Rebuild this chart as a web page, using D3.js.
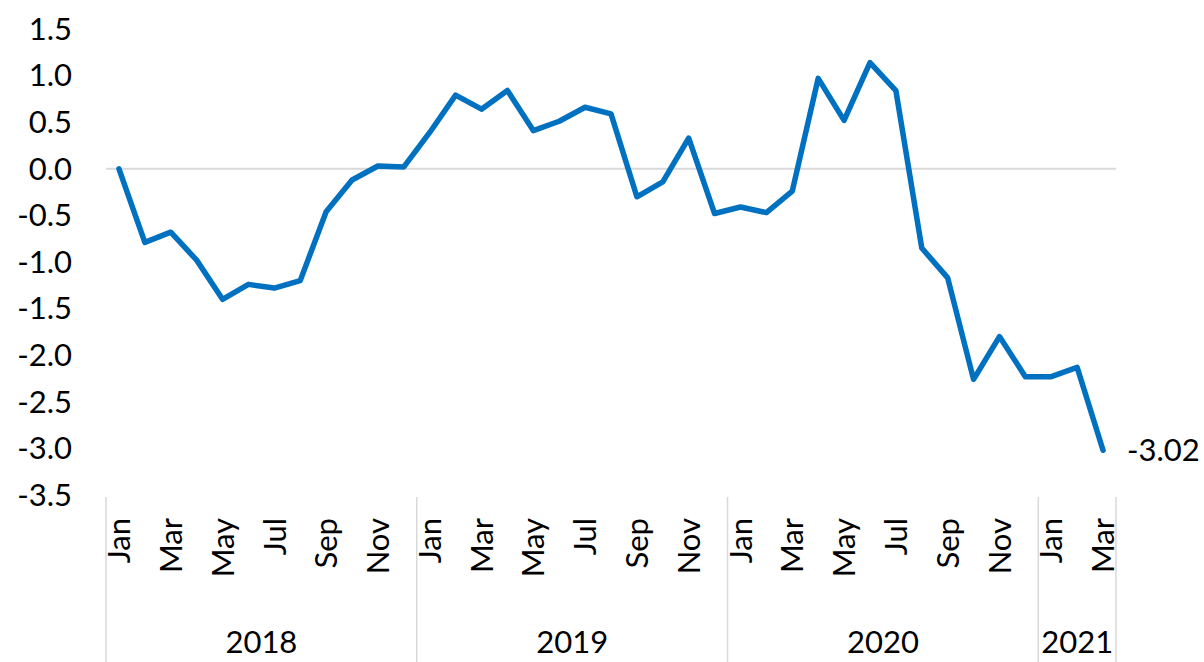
<!DOCTYPE html>
<html>
<head>
<meta charset="utf-8">
<script src="https://cdn.jsdelivr.net/npm/d3@7"></script>
<style>
  body { margin: 0; background: #fff; }
  svg { display: block; font-family: Lato, "Open Sans", sans-serif; }
</style>
</head>
<body>
<div class="chart"></div>
<script>
const years = ["2018", "2019", "2020", "2021"];
const monthsPerYear = [12, 12, 12, 3];
const monthNames = ["Jan", "Feb", "Mar", "Apr", "May", "Jun", "Jul", "Aug", "Sep", "Oct", "Nov", "Dec"];
const values = [
  0.0, -0.79, -0.68, -0.98, -1.40, -1.24, -1.28, -1.20, -0.46, -0.12, 0.03, 0.02,
  0.39, 0.79, 0.64, 0.84, 0.41, 0.51, 0.66, 0.59, -0.30, -0.14, 0.33, -0.48,
  -0.41, -0.47, -0.24, 0.97, 0.52, 1.14, 0.84, -0.85, -1.17, -2.26, -1.80, -2.23,
  -2.23, -2.13, -3.02,
];
const yTicks = [1.5, 1.0, 0.5, 0.0, -0.5, -1.0, -1.5, -2.0, -2.5, -3.0, -3.5];
const endLabel = "-3.02";

const width = 1204;
const height = 662;
const fontSize = 31;

function main() {
  // build month list from the year counts
  const points = [];
  years.forEach((yr, i) => {
    for (let m = 0; m < monthsPerYear[i]; m++) {
      points.push({ year: yr, month: monthNames[m], idx: m, value: values[points.length] });
    }
  });

  const x = d3.scaleBand()
    .domain(points.map((d, i) => i))
    .range([106, 1116]);
  const y = d3.scaleLinear().domain([-3.5, 1.5]).range([495, 29]);

  const svg = d3.select(".chart")
    .append("svg")
    .attr("width", width)
    .attr("height", height);

  // zero line
  svg.append("line")
    .attr("x1", x.range()[0])
    .attr("x2", x.range()[1])
    .attr("y1", y(0))
    .attr("y2", y(0))
    .attr("stroke", "#d9d9d9")
    .attr("stroke-width", 2);

  // y axis labels
  svg.append("g")
    .selectAll("text")
    .data(yTicks)
    .join("text")
    .attr("x", 72)
    .attr("y", (d) => y(d))
    .attr("dy", "0.35em")
    .attr("text-anchor", "end")
    .attr("font-size", fontSize)
    .attr("fill", "#000")
    .text((d) => d3.format(".1f")(d).replace("−", "-"));

  // month labels, every other month
  svg.append("g")
    .selectAll("text")
    .data(points.map((d, i) => ({ ...d, i })).filter((d) => d.idx % 2 === 0))
    .join("text")
    .attr("transform", (d) => `translate(${x(d.i) + x.bandwidth() / 2},518) rotate(-90)`)
    .attr("dy", "0.36em")
    .attr("text-anchor", "end")
    .attr("font-size", fontSize)
    .attr("fill", "#000")
    .text((d) => d.month);

  // year groups and separators
  let start = 0;
  const groups = years.map((yr, i) => {
    const g = { year: yr, start, end: start + monthsPerYear[i] };
    start = g.end;
    return g;
  });
  const edge = (i) => (i >= points.length ? x.range()[1] : x(i));

  svg.append("g")
    .selectAll("line")
    .data([...groups.map((g) => g.start), points.length])
    .join("line")
    .attr("x1", (d) => edge(d))
    .attr("x2", (d) => edge(d))
    .attr("y1", 497)
    .attr("y2", height)
    .attr("stroke", "#d9d9d9")
    .attr("stroke-width", 1.5);

  svg.append("g")
    .selectAll("text")
    .data(groups)
    .join("text")
    .attr("x", (d) => (edge(d.start) + edge(d.end)) / 2)
    .attr("y", 642)
    .attr("dy", "0.35em")
    .attr("text-anchor", "middle")
    .attr("font-size", fontSize)
    .attr("fill", "#000")
    .text((d) => d.year);

  // the series
  const line = d3.line()
    .x((d, i) => x(i) + x.bandwidth() / 2)
    .y((d) => y(d.value));

  svg.append("path")
    .datum(points)
    .attr("d", line)
    .attr("fill", "none")
    .attr("stroke", "#0070c0")
    .attr("stroke-width", 5.5)
    .attr("stroke-linejoin", "round")
    .attr("stroke-linecap", "round");

  const last = points.length - 1;
  svg.append("text")
    .attr("x", x(last) + x.bandwidth() / 2 + 24)
    .attr("y", y(points[last].value))
    .attr("dy", "0.35em")
    .attr("font-size", fontSize)
    .attr("fill", "#000")
    .text(endLabel);
}

main();
</script>
</body>
</html>
